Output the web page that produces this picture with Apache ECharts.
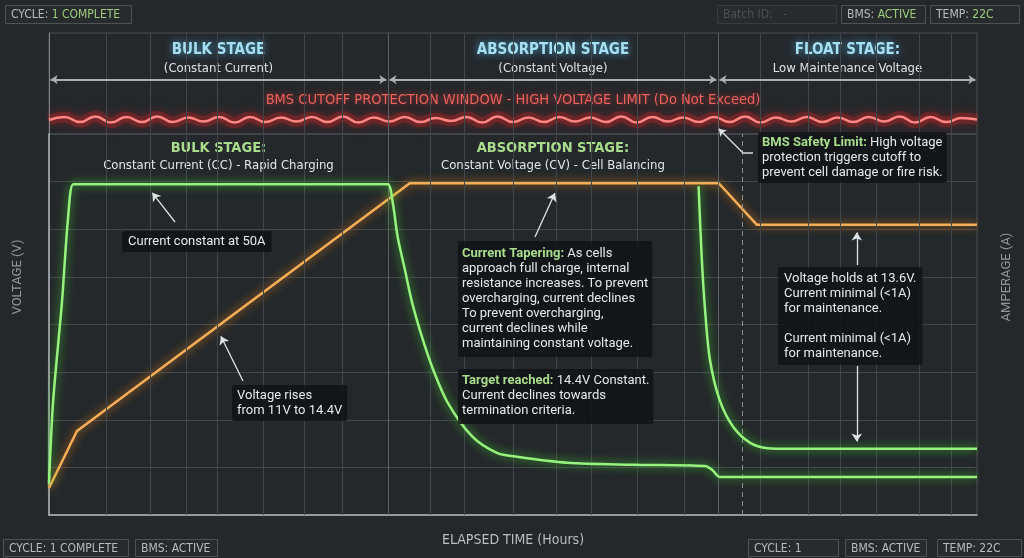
<!DOCTYPE html>
<html>
<head>
<meta charset="utf-8">
<title>Charge cycle</title>
<script src="https://cdn.jsdelivr.net/npm/echarts@6/dist/echarts.min.js"></script>
<style>
  html, body { margin: 0; padding: 0; background: #24282b; }
  #main { width: 1024px; height: 558px; }
</style>
</head>
<body>
<div id="main"></div>
<script>
// time axis in hours, grid lines (they are not evenly spaced)
var gridHours = [0.71, 1.25, 1.70, 2.09, 2.65, 3.16, 3.63, 4.73, 5.15, 5.75, 6.28, 6.72, 7.29, 7.87, 8.82, 9.41, 9.80, 10.25, 10.79, 11.18];
var stageEdges = [0, 4.2, 8.29, 11.5];
var stageNames = ['BULK STAGE', 'ABSORPTION STAGE', 'FLOAT STAGE:'];
var stageNotes = ['(Constant Current)', '(Constant Voltage)', 'Low Maintenance Voltage'];
var modeNames = ['BULK STAGE:', 'ABSORPTION STAGE:'];
var modeNotes = ['Constant Current (CC) - Rapid Charging', 'Constant Voltage (CV) - Cell Balancing'];
var floatCheckHour = 8.59;

// voltage (V)
var voltTime = [0, 0.347, 4.47, 8.30, 8.77, 11.5];
var voltValue = [8.52, 9.62, 14.4, 14.4, 13.6, 13.6];

// current (A), bulk + absorption
var ampTime = [0, 0.05, 0.16, 0.235, 0.30, 0.40, 4.10, 4.20, 4.26, 4.32, 4.41, 4.50, 4.62, 4.76, 4.94, 5.25, 5.55, 5.80, 6.42, 7.24, 8.13, 8.22, 8.31, 8.45, 11.5];
var ampValue = [4.7, 17, 32.1, 44.7, 50, 50, 50, 50, 47.2, 42.1, 37.1, 32.1, 27.0, 22.0, 17.0, 11.8, 9.4, 8.8, 7.9, 7.6, 7.4, 6.8, 5.75, 5.75, 5.75];

// current (A), second taper into float
var floatAmpTime = [8.05, 8.09, 8.13, 8.19, 8.31, 8.48, 8.69, 8.90, 9.18, 11.5];
var floatAmpValue = [49.7, 38.6, 31.0, 23.5, 17.4, 13.3, 10.9, 10.1, 10.0, 10.0];

// BMS cutoff line (V), sampled evenly over 0..11.5 h
var cutoffWave = [15.62, 15.68, 15.58, 15.69, 15.57, 15.68, 15.58, 15.69, 15.58, 15.67, 15.59, 15.68, 15.57, 15.68, 15.58, 15.67,
  15.59, 15.68, 15.58, 15.69, 15.57, 15.67, 15.59, 15.68, 15.58, 15.66, 15.60, 15.68, 15.57, 15.69, 15.58, 15.67, 15.58, 15.68,
  15.59, 15.67, 15.58, 15.69, 15.57, 15.68, 15.59, 15.67, 15.58, 15.68, 15.58, 15.69, 15.57, 15.67, 15.59, 15.68, 15.58, 15.67,
  15.58, 15.68, 15.59, 15.69, 15.57, 15.68, 15.58, 15.66, 15.63];
var headerArrowLevel = 16.4;
var cutoffTitleLevel = [15.9, 16.1];

var NARROW = "'Liberation Sans Narrow', 'DejaVu Sans Condensed', Roboto, sans-serif";
var BODY = "Roboto, 'Noto Sans', sans-serif";
var GRID = '#41464a';
var GREEN_TXT = '#a9dc8c';
var ARROW = '#dfe3e5';

function pairs(xs, ys) {
    return xs.map(function (x, i) { return [x, ys[i]]; });
}

var waveData = cutoffWave.map(function (v, i) {
    return [i * 11.5 / (cutoffWave.length - 1), v];
});

function hiddenAxis(extra) {
    var a = {
        type: 'value',
        axisLine: { show: false, onZero: false },
        axisTick: { show: false },
        axisLabel: { show: false },
        splitLine: { show: false }
    };
    for (var k in extra) a[k] = extra[k];
    return a;
}

// stage title blocks in the header band
var stageAreas = stageNames.map(function (n, i) {
    return [{
        xAxis: stageEdges[i],
        label: { formatter: '{t|' + n + '}\n{s|' + stageNotes[i] + '}' }
    }, { xAxis: stageEdges[i + 1] }];
});
stageAreas.push([{
    xAxis: 0, yAxis: cutoffTitleLevel[0],
    label: {
        position: 'inside', distance: 0,
        formatter: 'BMS CUTOFF PROTECTION WINDOW - HIGH VOLTAGE LIMIT (Do Not Exceed)',
        color: '#e8625e', fontSize: 14.5, fontFamily: NARROW,
        textShadowColor: 'rgba(255,50,50,0.7)', textShadowBlur: 6
    }
}, { xAxis: 11.5, yAxis: cutoffTitleLevel[1] }]);

var modeAreas = modeNames.map(function (n, i) {
    return [{
        xAxis: stageEdges[i],
        label: { formatter: '{g|' + n + '}\n{w|' + modeNotes[i] + '}' }
    }, { xAxis: stageEdges[i + 1] }];
});

var headerArrows = stageNames.map(function (n, i) {
    return [{ coord: [stageEdges[i] + 0.02, headerArrowLevel] }, { coord: [stageEdges[i + 1] - 0.02, headerArrowLevel] }];
});

function gridLines() {
    return gridHours.map(function (h) { return { xAxis: h }; })
        .concat([stageEdges[1], stageEdges[2]].map(function (h) {
            return { xAxis: h, lineStyle: { color: '#5a6064' } };
        }));
}

var chart = echarts.init(document.getElementById('main'));

var greenLine = { color: '#98f27e', width: 2.5, shadowColor: 'rgba(70,225,50,0.95)', shadowBlur: 10 };

var option = {
    backgroundColor: '#24282b',
    animation: false,
    grid: [
        { left: 49, right: 47, top: 33, height: 101, show: true, borderColor: '#4a4f53', borderWidth: 1 },
        { left: 49, right: 47, top: 134, height: 381, show: true, borderColor: '#4a4f53', borderWidth: 1 }
    ],
    xAxis: [
        hiddenAxis({ gridIndex: 0, min: 0, max: 11.5 }),
        hiddenAxis({
            gridIndex: 1, min: 0, max: 11.5,
            axisLine: { show: true, onZero: false, lineStyle: { color: '#b4b9bd', width: 1.5 } },
            name: 'ELAPSED TIME (Hours)', nameLocation: 'middle', nameGap: 18,
            nameTextStyle: { color: '#b9bec2', fontSize: 14, fontFamily: NARROW }
        })
    ],
    yAxis: [
        hiddenAxis({ gridIndex: 0, min: 15.35, max: 17.3,
            axisLine: { show: true, onZero: false, lineStyle: { color: '#80868a' } } }),
        hiddenAxis({ gridIndex: 1, min: 8, max: 15.35,
            axisLine: { show: true, onZero: false, lineStyle: { color: '#b4b9bd', width: 1.5 } } }),
        hiddenAxis({ gridIndex: 1, position: 'right', min: 0, max: 57.6, interval: 7.2,
            splitLine: { show: true, lineStyle: { color: GRID, width: 1 } } })
    ],
    series: [
        {
            // header band grid and titles
            type: 'line', xAxisIndex: 0, yAxisIndex: 0, data: [], silent: true, z: 1,
            markLine: {
                silent: true, symbol: 'none', label: { show: false },
                lineStyle: { color: GRID, width: 1, type: 'solid' },
                data: gridLines()
            },
            markArea: {
                silent: true,
                itemStyle: { color: 'rgba(0,0,0,0)' },
                label: {
                    position: 'insideTop', distance: 8,
                    rich: {
                        t: { color: '#a8def2', fontSize: 15, fontWeight: 'bold', fontFamily: NARROW, lineHeight: 19,
                             textShadowColor: 'rgba(80,190,240,0.8)', textShadowBlur: 8 },
                        s: { color: '#dfe3e6', fontSize: 13, fontFamily: NARROW, lineHeight: 17 }
                    }
                },
                data: stageAreas
            }
        },
        {
            // plot grid, stage labels, float check line
            type: 'line', xAxisIndex: 1, yAxisIndex: 2, data: [], silent: true, z: 1,
            markLine: {
                silent: true, symbol: 'none', label: { show: false },
                lineStyle: { color: GRID, width: 1, type: 'solid' },
                data: gridLines().concat([{ xAxis: floatCheckHour, lineStyle: { color: '#8a9094', type: [5, 4] } }])
            },
            markArea: {
                silent: true,
                itemStyle: { color: 'rgba(0,0,0,0)' },
                label: {
                    position: 'insideTop', distance: 6,
                    rich: {
                        g: { color: GREEN_TXT, fontSize: 14.5, fontWeight: 'bold', fontFamily: NARROW, lineHeight: 17 },
                        w: { color: '#e4e7e9', fontSize: 13, fontFamily: NARROW, lineHeight: 17 }
                    }
                },
                data: modeAreas
            }
        },
        {
            // soft halo of the cutoff line
            type: 'line', xAxisIndex: 0, yAxisIndex: 0, data: waveData, smooth: 0.5, symbol: 'none', silent: true, z: 2,
            lineStyle: { color: 'rgba(255,40,40,0.22)', width: 11 }
        },
        {
            name: 'BMS cutoff', type: 'line', xAxisIndex: 0, yAxisIndex: 0, data: waveData, smooth: 0.5,
            symbol: 'none', silent: true, clip: false, z: 3,
            lineStyle: { color: '#ff8683', width: 2.5, shadowColor: '#ff1c1c', shadowBlur: 12 },
            markLine: {
                silent: true, symbol: ['arrow', 'arrow'], symbolSize: 7, label: { show: false },
                lineStyle: { color: '#a9afb3', width: 2, type: 'solid' },
                data: headerArrows.concat([
                    [{ x: 753, y: 153, symbol: 'none' }, { x: 743, y: 153, symbol: 'none' }],
                    [{ x: 743, y: 153, symbol: 'none', lineStyle: { color: ARROW, width: 1.3 } },
                     { coord: [8.30, 15.45], symbol: 'arrow', lineStyle: { color: ARROW, width: 1.3 } }]
                ])
            }
        },
        {
            name: 'Voltage', type: 'line', xAxisIndex: 1, yAxisIndex: 1, data: pairs(voltTime, voltValue),
            symbol: 'none', silent: true, clip: false, z: 4,
            lineStyle: { color: '#f6ae57', width: 2.5, shadowColor: 'rgba(240,135,25,0.95)', shadowBlur: 10 },
            markLine: {
                silent: true, symbol: ['none', 'arrow'], symbolSize: 8, label: { show: false },
                lineStyle: { color: ARROW, width: 1.3, type: 'solid' },
                data: [
                    [{ x: 243, y: 381 }, { coord: [2.13, 11.45] }],
                    [{ x: 535, y: 237 }, { coord: [6.27, 14.21] }],
                    [{ x: 857, y: 265 }, { coord: [10.01, 13.45] }]
                ]
            }
        },
        {
            name: 'Current', type: 'line', xAxisIndex: 1, yAxisIndex: 2, data: pairs(ampTime, ampValue),
            symbol: 'none', silent: true, clip: false, z: 5, smooth: 0.3,
            lineStyle: greenLine,
            markLine: {
                silent: true, symbol: ['none', 'arrow'], symbolSize: 8, label: { show: false },
                lineStyle: { color: ARROW, width: 1.3, type: 'solid' },
                data: [[{ x: 175, y: 222 }, { coord: [1.28, 48.7] }]]
            }
        },
        {
            name: 'Float current', type: 'line', xAxisIndex: 1, yAxisIndex: 2, data: pairs(floatAmpTime, floatAmpValue),
            symbol: 'none', silent: true, clip: false, z: 5, smooth: 0.3,
            lineStyle: greenLine,
            markLine: {
                silent: true, symbol: ['none', 'arrow'], symbolSize: 8, label: { show: false },
                lineStyle: { color: ARROW, width: 1.3, type: 'solid' },
                data: [[{ x: 857, y: 366 }, { coord: [10.01, 11.1] }]]
            }
        }
    ]
};

// annotation boxes and status chips
function note(left, top, text, pad) {
    return {
        type: 'text', left: left, top: top, z: 60, silent: true,
        style: {
            text: text, fill: '#e6e8ea', fontSize: 13, fontFamily: BODY, lineHeight: 15,
            backgroundColor: 'rgba(17,19,22,0.88)', padding: pad || [4, 5], borderRadius: 2,
            rich: {
                g: { fill: GREEN_TXT, fontWeight: 'bold', fontSize: 13, fontFamily: BODY, lineHeight: 15 },
                n: { fill: '#e6e8ea', fontSize: 13, fontFamily: BODY, lineHeight: 15 }
            }
        }
    };
}

function chip(x, y, w, h, label, value, valueColor, faint) {
    return [{
        type: 'rect', z: 60, silent: true,
        shape: { x: x + 0.5, y: y + 0.5, width: w, height: h },
        style: { fill: 'rgba(255,255,255,0.015)', stroke: faint ? '#383c40' : '#4d5256', lineWidth: 1 }
    }, {
        type: 'text', z: 61, silent: true, x: x + 6, y: y + h / 2 + 1,
        style: {
            text: '{l|' + label + '}{v|' + value + '}', verticalAlign: 'middle',
            rich: {
                l: { fill: faint ? '#4a5054' : '#b7bcc0', fontSize: 12, fontFamily: NARROW },
                v: { fill: valueColor, fontSize: 12, fontFamily: NARROW }
            }
        }
    }];
}

var graphics = [
    note(122, 231, 'Current constant at 50A', [3, 6]),
    note(232, 385, 'Voltage rises\nfrom 11V to 14.4V', [3, 5]),
    note(458, 241, '{g|Current Tapering:}{n| As cells}\napproach full charge, internal\nresistance increases. To prevent\novercharging, current declines\nTo prevent overcharging,\ncurrent declines while\nmaintaining constant voltage.', [5, 4, 6, 4]),
    note(458, 369, '{g|Target reached:}{n| 14.4V Constant.}\nCurrent declines towards\ntermination criteria.', [4, 4, 6, 4]),
    note(758, 132, '{g|BMS Safety Limit:}{n| High voltage}\nprotection triggers cutoff to\nprevent cell damage or fire risk.', [3, 4]),
    note(778, 267, 'Voltage holds at 13.6V.\nCurrent minimal (<1A)\nfor maintenance.\n\nCurrent minimal (<1A)\nfor maintenance.', [4, 6]),
    {
        type: 'text', x: 18, y: 277, rotation: Math.PI / 2, silent: true,
        style: { text: 'VOLTAGE (V)', fill: '#8f969a', fontSize: 13, fontFamily: BODY, align: 'center', verticalAlign: 'middle' }
    },
    {
        type: 'text', x: 1007, y: 277, rotation: Math.PI / 2, silent: true,
        style: { text: 'AMPERAGE (A)', fill: '#8f969a', fontSize: 13, fontFamily: BODY, align: 'center', verticalAlign: 'middle' }
    }
].concat(
    chip(5, 5, 126, 18, 'CYCLE: ', '1 COMPLETE', '#9ccc7c'),
    chip(717, 5, 119, 18, 'Batch ID:   ', '-', '#4a5054', true),
    chip(841, 5, 84, 18, 'BMS: ', 'ACTIVE', '#9ccc7c'),
    chip(930, 5, 89, 18, 'TEMP: ', '22C', '#9ccc7c'),
    chip(3, 539, 125, 17, 'CYCLE: 1 COMPLETE', '', '#b7bcc0'),
    chip(135, 539, 82, 17, 'BMS: ACTIVE', '', '#b7bcc0'),
    chip(748, 539, 90, 17, 'CYCLE: 1', '', '#b7bcc0'),
    chip(845, 539, 81, 17, 'BMS: ACTIVE', '', '#b7bcc0'),
    chip(937, 539, 84, 17, 'TEMP: 22C', '', '#b7bcc0')
);

option.graphic = graphics;
chart.setOption(option);
</script>
</body>
</html>
